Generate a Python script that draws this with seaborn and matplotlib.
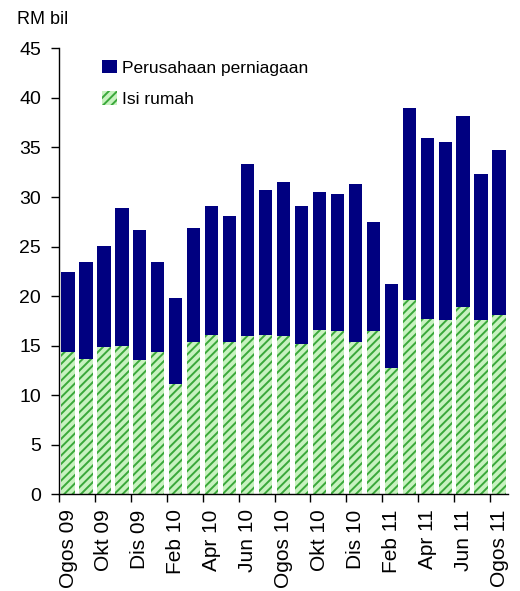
import matplotlib
matplotlib.use('Agg')
import matplotlib.pyplot as plt
import seaborn as sns
import pandas as pd
from matplotlib.patches import Patch

# Months Ogos 09 .. Ogos 11
months = ['Ogos 09', 'Sep 09', 'Okt 09', 'Nov 09', 'Dis 09', 'Jan 10', 'Feb 10',
          'Mac 10', 'Apr 10', 'Mei 10', 'Jun 10', 'Jul 10', 'Ogos 10', 'Sep 10',
          'Okt 10', 'Nov 10', 'Dis 10', 'Jan 11', 'Feb 11', 'Mac 11', 'Apr 11',
          'Mei 11', 'Jun 11', 'Jul 11', 'Ogos 11']

# Isi rumah (household) - bottom segment
household = [14.3, 13.6, 14.85, 14.95, 13.5, 14.3, 11.1, 15.35, 16.05, 15.35,
             15.95, 16.05, 15.95, 15.15, 16.55, 16.45, 15.35, 16.45, 12.7, 19.6,
             17.7, 17.6, 18.9, 17.6, 18.1]

# Total height (household + business)
total = [22.4, 23.4, 25.05, 28.9, 26.7, 23.4, 19.8, 26.9, 29.1, 28.1,
         33.3, 30.7, 31.5, 29.1, 30.5, 30.3, 31.3, 27.5, 21.2, 39.0,
         36.0, 35.6, 38.2, 32.3, 34.7]

df = pd.DataFrame({'Bulan': months, 'Isi rumah': household, 'Jumlah': total})

plt.rcParams['font.family'] = ['Liberation Sans', 'DejaVu Sans']
plt.rcParams['hatch.linewidth'] = 1.4

fig = plt.figure(figsize=(5.2, 5.91), dpi=100)
ax = fig.add_axes([0.1135, 0.164, 0.8635, 0.754])

navy = '#000080'
light_green = '#c8f2c0'
dark_green = '#3aa83a'

sns.barplot(data=df, x='Bulan', y='Jumlah', color=navy, width=0.74,
            saturation=1, linewidth=0, ax=ax)
sns.barplot(data=df, x='Bulan', y='Isi rumah', color=light_green, width=0.74,
            saturation=1, linewidth=0, ax=ax)
for p in ax.patches[len(months):]:
    p.set_hatch('////')
    p.set_edgecolor(dark_green)
    p.set_linewidth(0)

ax.set_ylim(0, 45)
ax.set_xlim(-0.5, len(months) - 0.5)
ax.set_yticks(range(0, 46, 5))
ax.set_xticks([i for i in range(0, len(months), 2)])
ax.set_xticklabels([months[i] for i in range(0, len(months), 2)], rotation=90)
ax.set_xticks([i - 0.5 for i in range(0, len(months) + 1, 2)], minor=True)
ax.tick_params(axis='x', which='major', length=0, pad=11, labelsize=15)
ax.tick_params(axis='x', which='minor', length=6, width=1)
ax.tick_params(axis='y', length=6, width=1, labelsize=14, pad=7)
ax.set_xlabel('')
ax.set_ylabel('')

for s in ['top', 'right']:
    ax.spines[s].set_visible(False)
ax.spines['left'].set_linewidth(1)
ax.spines['bottom'].set_linewidth(1)

fig.text(0.033, 0.967, 'RM bil', fontsize=13, va='center', ha='left')

handles = [Patch(facecolor=navy, edgecolor=navy, linewidth=0),
           Patch(facecolor=light_green, edgecolor=dark_green, hatch='////', linewidth=0)]
ax.legend(handles, ['Perusahaan perniagaan', 'Isi rumah'], loc='upper left',
          bbox_to_anchor=(0.062, 1.01), frameon=False, fontsize=12.5,
          handlelength=0.85, handleheight=0.85, handletextpad=0.3, labelspacing=0.9)

fig.savefig('out.png', dpi=100)
